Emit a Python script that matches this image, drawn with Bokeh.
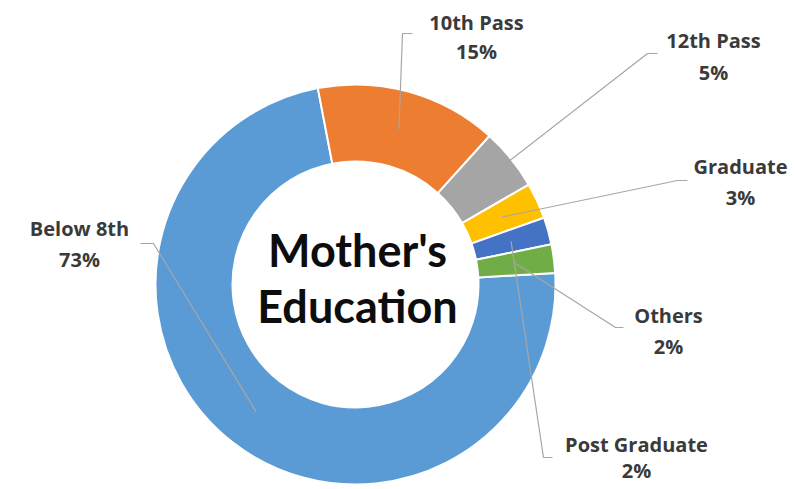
import math
from bokeh.plotting import figure
from bokeh.models import Range1d, ColumnDataSource
from bokeh.embed import file_html
from bokeh.resources import INLINE
from bokeh.core.properties import value

# ---------------- data ----------------
categories = ["Below 8th", "10th Pass", "12th Pass", "Graduate", "Post Graduate", "Others"]
shares = [72.9, 14.7, 5.0, 2.9, 2.2, 2.3]          # percent of mothers
colors = ["#5B9BD5", "#ED7D31", "#A5A5A5", "#FFC000", "#4472C4", "#70AD47"]
title_lines = ["Mother's", "Education"]

# ---------------- layout (image pixel coordinates) ----------------
CX, CY = 355, 284          # donut centre
R_OUT, R_IN = 200, 123
FIRST_ANGLE = 86.7         # degrees clockwise from 12 o'clock
# label: centre x, name-line y, pct-line y, elbow (x, y), end (x, y)
label_layout = {
    "Below 8th":     (79, 228, 259, (153, 243), (140, 243)),
    "10th Pass":     (476, 22, 51, (402, 33), (412, 33)),
    "12th Pass":     (713, 40, 72, (647, 53), (657, 53)),
    "Graduate":      (740, 166, 197, (677, 180), (687, 180)),
    "Post Graduate": (636, 444, 470, (543, 457), (552, 457)),
    "Others":        (668, 315, 346, (615, 327), (623, 327)),
}

W, H = 796, 489
p = figure(width=W, height=H, x_range=Range1d(0, W), y_range=Range1d(-H, 0),
           output_backend="svg", toolbar_location=None, min_border=0,
           x_axis_type=None, y_axis_type=None)
p.grid.visible = False
p.outline_line_color = None
p.background_fill_color = "white"
p.border_fill_color = "white"

total = sum(shares)
starts, ends, mids = [], [], []
cw = FIRST_ANGLE
for s in shares:
    sweep = s / total * 360.0
    starts.append(math.radians(90 - cw))
    ends.append(math.radians(90 - (cw + sweep)))
    mids.append(math.radians(90 - (cw + sweep / 2)))
    cw += sweep

src = ColumnDataSource(dict(cat=categories, start=starts, end=ends, color=colors))
p.annular_wedge(x=CX, y=-CY, inner_radius=R_IN, outer_radius=R_OUT,
                start_angle="start", end_angle="end", direction="clock",
                fill_color="color", line_color="white", line_width=2, source=src)

# leader lines
r_mid = (R_IN + R_OUT) / 2
xs, ys = [], []
for cat, m in zip(categories, mids):
    lx, y1, y2, elbow, end = label_layout[cat]
    sx = CX + r_mid * math.cos(m)
    sy = -CY + r_mid * math.sin(m)
    xs.append([sx, elbow[0], end[0]])
    ys.append([sy, -elbow[1], -end[1]])
p.multi_line(xs, ys, line_color="#A6A6A6", line_width=1.2)

# labels
name_x, name_y, pct_y, pct_txt = [], [], [], []
for cat, s in zip(categories, shares):
    lx, y1, y2, _, _ = label_layout[cat]
    name_x.append(lx)
    name_y.append(-y1)
    pct_y.append(-y2)
    pct_txt.append(f"{round(s)}%")
lab_src = ColumnDataSource(dict(x=name_x, y=name_y, y2=pct_y, name=categories, pct=pct_txt))
for ycol, tcol in (("y", "name"), ("y2", "pct")):
    p.text(x="x", y=ycol, text=tcol, source=lab_src, text_align="center",
           text_baseline="middle", text_font=value("Open Sans"), text_font_style="bold",
           text_font_size="20px", text_color="#3A3A3A")

# centre title
p.text(x=[CX + 2, CX + 2], y=[-249, -305], text=title_lines, text_align="center",
       text_baseline="middle", text_font=value("Lato"), text_font_style="bold",
       text_font_size="45px", text_color="#0D0D0D")

open("out.html", "w").write(file_html(p, INLINE))
